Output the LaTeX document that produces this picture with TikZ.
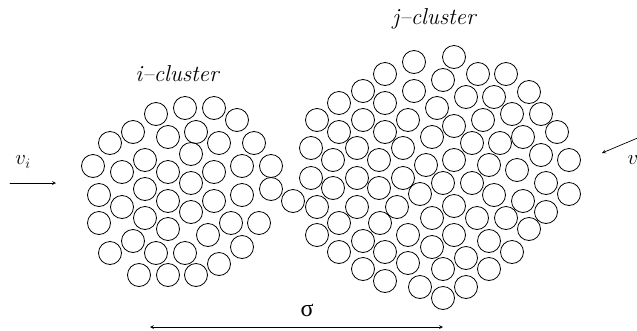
\documentclass[tikz,border=0pt]{standalone}
\usepackage{fontspec}
\newfontfamily\greekfont{Liberation Serif}
\tikzset{
  grain/.style={line width=0.8pt},
  label/.style={font=\fontsize{23}{27}\selectfont\itshape},
}
\begin{document}
\begin{tikzpicture}[>=stealth,line join=round,line cap=round,x=1pt,y=-1pt]
            \useasboundingbox (0,0) rectangle (637,330);
            % i-cluster
            \foreach \x/\y in {156/114,185/108,214/108,237/120,133/132,168/137,196/132,219/143,254/143,110/143,
              191/154,93/166,122/172,145/160,168/172,214/172,242/166,271/166,191/183,99/195,145/189,168/201,
              214/201,242/195,271/189,293/201,122/207,191/212,99/223,145/218,168/229,231/223,259/223,208/235,
              133/241,110/253,156/253,185/253,242/247,219/264,139/275,168/275,196/275}
            \draw[grain] (\x,\y) circle (11.5);
            % j-cluster
            \foreach \x/\y in {414/62,385/74,414/91,363/91,339/103,385/103,317/120,363/120,408/120,339/132,
              385/132,311/148,357/148,403/148,333/160,379/160,454/57,443/80,478/74,506/74,466/97,494/97,
              529/92,437/108,483/120,512/114,541/114,454/126,557/132,432/137,472/143,500/143,523/137,
              454/160,541/155,569/160,489/165,517/170,426/165,311/178,333/188,357/178,379/188,403/178,
              420/194,317/207,357/207,397/207,339/223,380/223,432/218,317/235,363/241,408/235,339/252,
              385/252,432/247,363/269,408/263,385/281,420/287,443/183,472/183,546/183,569/194,494/195,
              523/201,454/206,477/218,506/218,546/212,529/229,454/235,489/241,512/252,466/258,443/269,
              489/269,466/287,443/298}
            \draw[grain] (\x,\y) circle (11.5);
            \node[label] (ilab) at (177,74) {i--cluster};
            \node[label] (jlab) at (434,19) {j--cluster};
            % velocities
            \coordinate (vitail) at (10,183);
            \coordinate (vihead) at (56,183);
            \draw[->,line width=0.7pt] (vitail)--(vihead);
            \node[font=\fontsize{21}{25}\selectfont] (vi) at (23,162) {$v_i$};
            \coordinate (vjtail) at (640,137);
            \coordinate (vjhead) at (602,153);
            \draw[->,line width=0.7pt] (vjtail)--(vjhead);
            \node[font=\fontsize{21}{25}\selectfont,anchor=west] (vj) at (624,163) {$v_j$};
            % distance
            \node[font=\fontsize{24}{28}\greekfont] (sig) at (307,310) {σ};
            \coordinate (sleft) at (150,327);
            \coordinate (sright) at (443,327);
            \draw[<->,line width=0.7pt] (sleft)--(sright);
    \end{tikzpicture}
\end{document}
